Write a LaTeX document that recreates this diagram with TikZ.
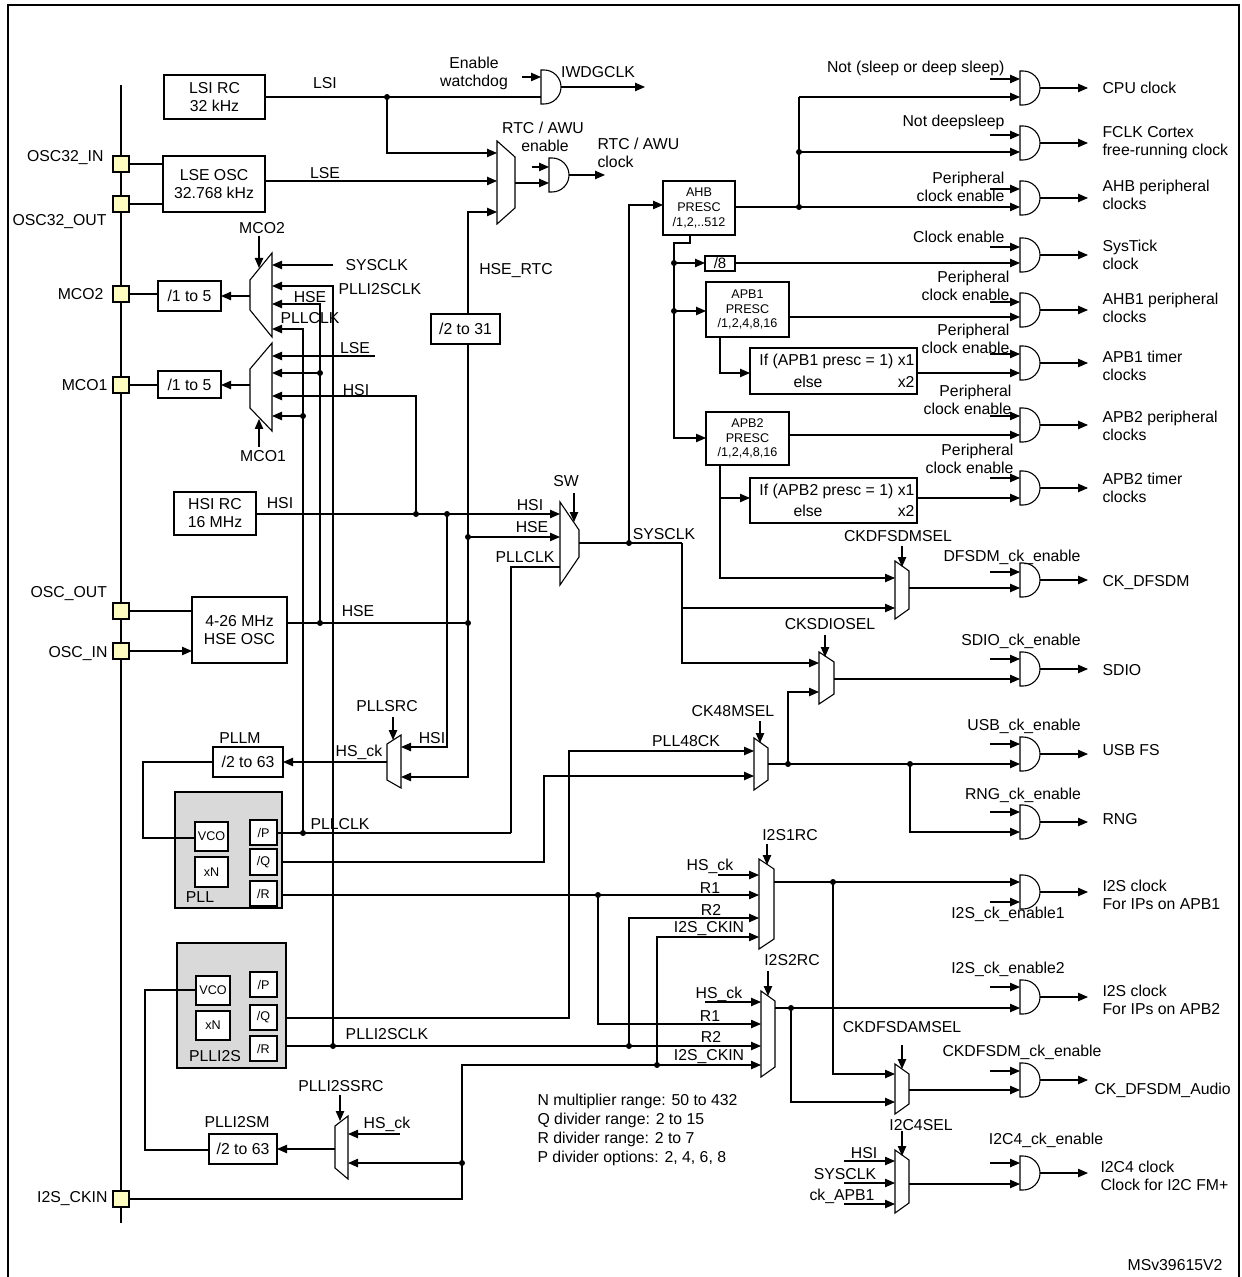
\documentclass[tikz,border=0pt]{standalone}
\usepackage{fontspec}
\setmainfont{Liberation Sans}
\usetikzlibrary{arrows.meta,calc}
\begin{document}
\begin{tikzpicture}[x=0.5pt,y=-0.5pt,line width=0.55pt,
  a/.style={-{Triangle[length=5pt,width=4.2pt]}},
  t/.style={font=\fontsize{7.9}{9}\selectfont,inner sep=0pt,align=center},
  ts/.style={font=\fontsize{6.3}{7.3}\selectfont,inner sep=0pt,align=center},
  dot/.style={circle,fill=black,inner sep=0pt,minimum size=3pt}]
\useasboundingbox (0,0) rectangle (1241,1277);
\newcommand\bx[6]{\draw[fill=white] (#2,#3) rectangle (#4,#5); \node[t] (#1) at ($(#2,#3)!.5!(#4,#5)$) {#6};}
\newcommand\sbx[6]{\draw[fill=white] (#2,#3) rectangle (#4,#5); \node[ts] (#1) at ($(#2,#3)!.5!(#4,#5)$) {#6};}
\newcommand\pad[2]{\draw[fill=yellow!25] (#1-8,#2-8) rectangle (#1+8,#2+8);}
\newcommand\gt[2]{\draw[fill=white] (#1,#2-17) -- (#1+3,#2-17) arc[start angle=90,end angle=-90,radius=8.5pt] -- (#1,#2+17) -- cycle;}
\newcommand\dt[1]{\node[dot] at (#1) {};}
% frame
\draw[line width=1pt] (8,1300) -- (8,5) -- (1239,5) -- (1239,1300);
% bus and pads
\draw (121,85) -- (121,1223);
\foreach \y in {164,204,294,385,611,651,1199} {\pad{121}{\y}}
\node[t,anchor=east] at (104,158) {OSC32\_IN};
\node[t,anchor=west] at (12,222) {OSC32\_OUT};
\node[t,anchor=east] at (104,294) {MCO2};
\node[t,anchor=east] at (108,385) {MCO1};
\node[t,anchor=west] at (30,594) {OSC\_OUT};
\node[t,anchor=east] at (108,654) {OSC\_IN};
\node[t,anchor=east] at (108,1199) {I2S\_CKIN};
% LSI / IWDG
\bx{lsi}{164}{75}{265}{119}{LSI RC\\32 kHz}
\node[t] at (325,83) {LSI};
\draw (265,97) -- (541,97);
\dt{387,97}
\gt{541}{87}
\draw[a] (522,77) -- (541,77);
\node[t] at (474,73) {Enable\\watchdog};
\draw[a] (561,87) -- (645,87);
\node[t] at (598,72) {IWDGCLK};
% LSE / RTC
\bx{lse}{163}{156}{265}{212}{LSE OSC\\32.768 kHz}
\draw (129,164) -- (163,164); \draw (129,204) -- (163,204);
\draw[a] (265,181) -- (497,181);
\node[t] at (325,173) {LSE};
\draw[a] (387,97) -- (387,153) -- (497,153);
\draw[fill=white] (497,141) -- (515,157) -- (515,208) -- (497,224) -- cycle;
\draw[a] (468,314) -- (468,212) -- (497,212);
\bx{div31}{431}{314}{500}{344}{/2 to 31}
\node[t] at (516,271) {HSE\_RTC};
\draw[a] (515,183) -- (549,183);
\gt{549}{175}
\draw[a] (532,167) -- (549,167);
\draw[a] (569,175) -- (605,175);
\node[t] at (543,128) {RTC / AWU};
\node[t] at (545,146) {enable};
\node[t,anchor=west,align=left] at (597,153) {RTC / AWU\\clock};
% MCO2
\draw[fill=white] (250,280) -- (272,253) -- (272,337) -- (250,310) -- cycle;
\draw[a] (259,236) -- (259,268);
\node[t] at (262,228) {MCO2};
\draw[a] (333,265) -- (272,265);
\node[t,anchor=west] at (345,265) {SYSCLK};
\draw[a] (333,1046) -- (333,286) -- (272,286);
\node[t,anchor=west] at (338,289) {PLLI2SCLK};
\draw[a] (320,623) -- (320,304) -- (272,304);
\node[t] at (310,297) {HSE};
\draw[a] (303,833) -- (303,329) -- (272,329);
\node[t] at (310,318) {PLLCLK};
\draw[a] (250,296) -- (221,296);
\bx{m2d}{158}{281}{221}{311}{/1 to 5}
\draw (129,294) -- (158,294);
% MCO1
\draw[fill=white] (250,369) -- (272,343) -- (272,431) -- (250,408) -- cycle;
\draw[a] (375,356) -- (272,356);
\node[t] at (355,348) {LSE};
\draw[a] (320,373) -- (272,373); \dt{320,373}
\draw[a] (416,514) -- (416,396) -- (272,396);
\node[t] at (356,390) {HSI};
\draw[a] (303,416) -- (272,416); \dt{303,416}
\draw[a] (259,447) -- (259,419);
\node[t] at (263,456) {MCO1};
\draw[a] (250,385) -- (221,385);
\bx{m1d}{158}{371}{221}{398}{/1 to 5}
\draw (129,385) -- (158,385);
% HSI / HSE
\bx{hsi}{174}{492}{256}{535}{HSI RC\\16 MHz}
\node[t] at (280,503) {HSI};
\draw[a] (256,514) -- (560,514);
\dt{416,514} \dt{447,514}
\draw[a] (447,514) -- (447,747) -- (401,747);
\node[t] at (432,738) {HSI};
\bx{hse}{192}{597}{287}{663}{4-26 MHz\\HSE OSC}
\draw (287,623) -- (468,623);
\node[t] at (358,611) {HSE};
\dt{320,623} \dt{468,623}
\draw (129,611) -- (192,611);
\draw[a] (129,651) -- (192,651);
\draw[a] (468,344) -- (468,777) -- (401,777);
\dt{468,537}
\draw[a] (468,537) -- (560,537);
% SW
\draw[fill=white] (560,502) -- (579,530) -- (579,557) -- (560,585) -- cycle;
\draw[a] (574,493) -- (574,522);
\node[t] at (566,481) {SW};
\node[t] at (530,505) {HSI};
\node[t] at (532,527) {HSE};
\node[t] at (525,557) {PLLCLK};
\draw (511,833) -- (511,567) -- (560,567);
\draw (579,543) -- (682,543);
\dt{629,543}
\node[t] at (664,534) {SYSCLK};
\draw[a] (629,543) -- (629,205) -- (663,205);
\draw[a] (682,543) -- (682,663) -- (819,663);
\draw[a] (682,608) -- (895,608);
% AHB
\sbx{ahb}{663}{181}{735}{235}{AHB\\PRESC\\/1,2,..512}
\draw[a] (735,207) -- (1020,207);
\draw (799,97) -- (799,207);
\dt{799,152} \dt{799,207}
\draw[a] (799,97) -- (1020,97);
\draw[a] (799,152) -- (1020,152);
\draw[a] (690,235) -- (690,243) -- (674,243) -- (674,438) -- (706,438);
\dt{674,263} \dt{674,311}
\draw[a] (674,263) -- (705,263);
\sbx{d8}{705}{256}{735}{271}{\fontsize{7.5}{8}\selectfont /8}
\draw[a] (735,263) -- (1020,263);
\draw[a] (674,311) -- (706,311);
\sbx{apb1}{706}{282}{789}{337}{APB1\\PRESC\\/1,2,4,8,16}
\draw[a] (789,317) -- (1020,317);
\draw[a] (720,337) -- (720,373) -- (750,373);
\draw[fill=white] (750,348) rectangle (917,394);
\node[t,anchor=east] at (915,361) {If (APB1 presc = 1) x1};
\node[t] at (808,382) {else}; \node[t,anchor=east] at (915,382) {x2};
\draw[a] (917,373) -- (1020,373);
\sbx{apb2}{706}{412}{789}{465}{APB2\\PRESC\\/1,2,4,8,16}
\draw[a] (789,435) -- (1020,435);
\draw[a] (720,465) -- (720,578) -- (895,578);
\draw[a] (720,498) -- (750,498);
\draw[fill=white] (750,478) rectangle (917,523);
\node[t,anchor=east] at (915,491) {If (APB2 presc = 1) x1};
\node[t] at (808,511) {else}; \node[t,anchor=east] at (915,511) {x2};
\draw[a] (917,498) -- (1020,498);
% right-hand gates
\foreach \c/\ti in {88/79,143/135,198/189,255/247,310/302,363/354,425/416,488/478,580/572,669/659,754/744,822/812,997/987,1080/1071,1173/1163} {
  \gt{1020}{\c}
  \draw[a] (990,\ti) -- (1020,\ti);
  \draw[a] (1040,\c) -- (1088,\c);
}
\gt{1020}{892}
\draw[a] (990,902) -- (1020,902);
\draw[a] (1040,892) -- (1088,892);
\node[t,anchor=east] at (1005,68) {Not (sleep or deep sleep)};
\node[t,anchor=east] at (1005,122) {Not deepsleep};
\node[t,anchor=east,align=right] at (1005,187) {Peripheral\\clock enable};
\node[t,anchor=east] at (1005,237) {Clock enable};
\node[t,anchor=east,align=right] at (1010,286) {Peripheral\\clock enable};
\node[t,anchor=east,align=right] at (1010,339) {Peripheral\\clock enable};
\node[t,anchor=east,align=right] at (1012,400) {Peripheral\\clock enable};
\node[t,anchor=east,align=right] at (1014,459) {Peripheral\\clock enable};
\node[t] at (1012,557) {DFSDM\_ck\_enable};
\node[t] at (1021,641) {SDIO\_ck\_enable};
\node[t] at (1024,726) {USB\_ck\_enable};
\node[t] at (1023,795) {RNG\_ck\_enable};
\node[t] at (1008,914) {I2S\_ck\_enable1};
\node[t] at (1008,969) {I2S\_ck\_enable2};
\node[t] at (1022,1052) {CKDFSDM\_ck\_enable};
\node[t] at (1046,1140) {I2C4\_ck\_enable};
\node[t,anchor=west] at (1102,88) {CPU clock};
\node[t,anchor=west,align=left] at (1102,143) {FCLK Cortex\\free-running clock};
\node[t,anchor=west,align=left] at (1102,195) {AHB peripheral\\clocks};
\node[t,anchor=west,align=left] at (1102,255) {SysTick\\clock};
\node[t,anchor=west,align=left] at (1102,308) {AHB1 peripheral\\clocks};
\node[t,anchor=west,align=left] at (1102,366) {APB1 timer\\clocks};
\node[t,anchor=west,align=left] at (1102,426) {APB2 peripheral\\clocks};
\node[t,anchor=west,align=left] at (1102,488) {APB2 timer\\clocks};
\node[t,anchor=west] at (1102,583) {CK\_DFSDM};
\node[t,anchor=west] at (1102,670) {SDIO};
\node[t,anchor=west] at (1102,750) {USB FS};
\node[t,anchor=west] at (1102,819) {RNG};
\node[t,anchor=west,align=left] at (1102,895) {I2S clock\\For IPs on APB1};
\node[t,anchor=west,align=left] at (1102,1000) {I2S clock\\For IPs on APB2};
\node[t,anchor=west] at (1094,1090) {CK\_DFSDM\_Audio};
\node[t,anchor=west,align=left] at (1100,1176) {I2C4 clock\\Clock for I2C FM+};
% CKDFSDMSEL
\draw[fill=white] (895,561) -- (909,571) -- (909,609) -- (895,619) -- cycle;
\draw[a] (902,546) -- (902,567);
\node[t] at (898,536) {CKDFSDMSEL};
\draw[a] (909,588) -- (1020,588);
% CKSDIOSEL
\draw[fill=white] (819,652) -- (834,662) -- (834,694) -- (819,704) -- cycle;
\draw[a] (825,635) -- (825,657);
\node[t] at (830,624) {CKSDIOSEL};
\draw[a] (834,679) -- (1020,679);
% CK48MSEL
\draw[fill=white] (754,738) -- (768,748) -- (768,780) -- (754,790) -- cycle;
\draw[a] (760,721) -- (760,743);
\node[t] at (733,711) {CK48MSEL};
\draw[a] (286,1018) -- (569,1018) -- (569,751) -- (754,751);
\node[t] at (686,741) {PLL48CK};
\draw[a] (277,862) -- (544,862) -- (544,776) -- (754,776);
\draw[a] (768,764) -- (1020,764);
\dt{788,764} \dt{910,764}
\draw[a] (788,764) -- (788,692) -- (819,692);
\draw[a] (910,764) -- (910,832) -- (1020,832);
% I2S1RC
\draw[fill=white] (759,859) -- (774,869) -- (774,939) -- (759,949) -- cycle;
\draw[a] (767,844) -- (767,865);
\node[t] at (790,835) {I2S1RC};
\draw[a] (718,875) -- (759,875); \node[t] at (710,866) {HS\_ck};
\draw[a] (277,895) -- (759,895); \node[t] at (710,888) {R1};
\dt{598,895}
\draw[a] (629,1046) -- (629,918) -- (759,918); \node[t] at (711,910) {R2};
\draw[a] (657,1065) -- (657,937) -- (759,937); \node[t] at (709,929) {I2S\_CKIN};
\draw[a] (774,882) -- (1020,882);
\dt{833,882}
\draw[a] (833,882) -- (833,1074) -- (895,1074);
% I2S2RC
\draw[fill=white] (761,991) -- (775,1001) -- (775,1067) -- (761,1077) -- cycle;
\draw[a] (768,971) -- (768,996);
\node[t] at (792,960) {I2S2RC};
\draw[a] (705,1002) -- (761,1002); \node[t] at (719,994) {HS\_ck};
\draw[a] (598,895) -- (598,1024) -- (761,1024); \node[t] at (710,1016) {R1};
\draw[a] (277,1046) -- (761,1046); \node[t] at (711,1037) {R2};
\dt{333,1046} \dt{629,1046}
\draw[a] (129,1199) -- (462,1199) -- (462,1065) -- (761,1065); \node[t] at (709,1057) {I2S\_CKIN};
\dt{657,1065} \dt{462,1163}
\node[t] at (387,1034) {PLLI2SCLK};
\draw[a] (775,1008) -- (1020,1008);
\dt{791,1008}
\draw[a] (791,1008) -- (791,1102) -- (895,1102);
% CKDFSDAMSEL
\draw[fill=white] (895,1064) -- (909,1074) -- (909,1104) -- (895,1114) -- cycle;
\draw[a] (902,1045) -- (902,1069);
\node[t] at (902,1027) {CKDFSDAMSEL};
\draw[a] (909,1090) -- (1020,1090);
% I2C4SEL
\draw[fill=white] (895,1150) -- (909,1160) -- (909,1203) -- (895,1213) -- cycle;
\draw[a] (902,1131) -- (902,1156);
\node[t] at (921,1125) {I2C4SEL};
\draw[a] (844,1161) -- (895,1161); \node[t] at (864,1153) {HSI};
\draw[a] (844,1183) -- (895,1183); \node[t] at (845,1174) {SYSCLK};
\draw[a] (844,1204) -- (895,1204); \node[t] at (842,1196) {ck\_APB1};
\draw[a] (909,1184) -- (1020,1184);
% PLLSRC / PLL
\draw[fill=white] (387,744) -- (401,735) -- (401,788) -- (387,780) -- cycle;
\draw[a] (393,717) -- (393,740);
\node[t] at (387,706) {PLLSRC};
\draw[a] (387,762) -- (283,762);
\node[t] at (359,752) {HS\_ck};
\bx{pllm}{213}{747}{283}{777}{/2 to 63}
\node[t] at (240,738) {PLLM};
\draw[fill=gray!30] (175,792) rectangle (282,908);
\draw (213,762) -- (143,762) -- (143,838) -- (195,838);
\sbx{vco1}{195}{822}{228}{851}{VCO}
\sbx{xn1}{195}{857}{228}{887}{xN}
\sbx{p1}{250}{820}{277}{845}{/P}
\sbx{q1}{250}{849}{277}{875}{/Q}
\sbx{r1}{250}{881}{277}{906}{/R}
\node[t] at (200,897) {PLL};
\draw (277,833) -- (511,833);
\dt{303,833}
\node[t] at (340,824) {PLLCLK};
% PLLI2S
\draw[fill=gray!30] (177,943) rectangle (286,1068);
\sbx{vco2}{196}{976}{230}{1005}{VCO}
\sbx{xn2}{196}{1011}{230}{1040}{xN}
\sbx{p2}{250}{972}{277}{997}{/P}
\sbx{q2}{250}{1005}{277}{1030}{/Q}
\sbx{r2}{250}{1036}{277}{1061}{/R}
\node[t] at (215,1056) {PLLI2S};
\draw (209,1150) -- (145,1150) -- (145,990) -- (196,990);
\bx{pllsm}{209}{1134}{277}{1164}{/2 to 63}
\node[t] at (237,1122) {PLLI2SM};
\draw[fill=white] (335,1126) -- (348,1116) -- (348,1179) -- (335,1168) -- cycle;
\draw[a] (340,1095) -- (340,1121);
\node[t] at (341,1086) {PLLI2SSRC};
\draw[a] (400,1134) -- (348,1134); \node[t] at (387,1124) {HS\_ck};
\draw[a] (462,1163) -- (348,1163);
\draw[a] (335,1149) -- (277,1149);
% notes
\node[t,anchor=north west,align=left,font=\fontsize{7.9}{9.6}\selectfont] at (537,1093) {N multiplier range: 50 to 432\\Q divider range: 2 to 15\\R divider range: 2 to 7\\P divider options: 2, 4, 6, 8};
\node[t] at (1175,1265) {MSv39615V2};
\end{tikzpicture}
\end{document}
